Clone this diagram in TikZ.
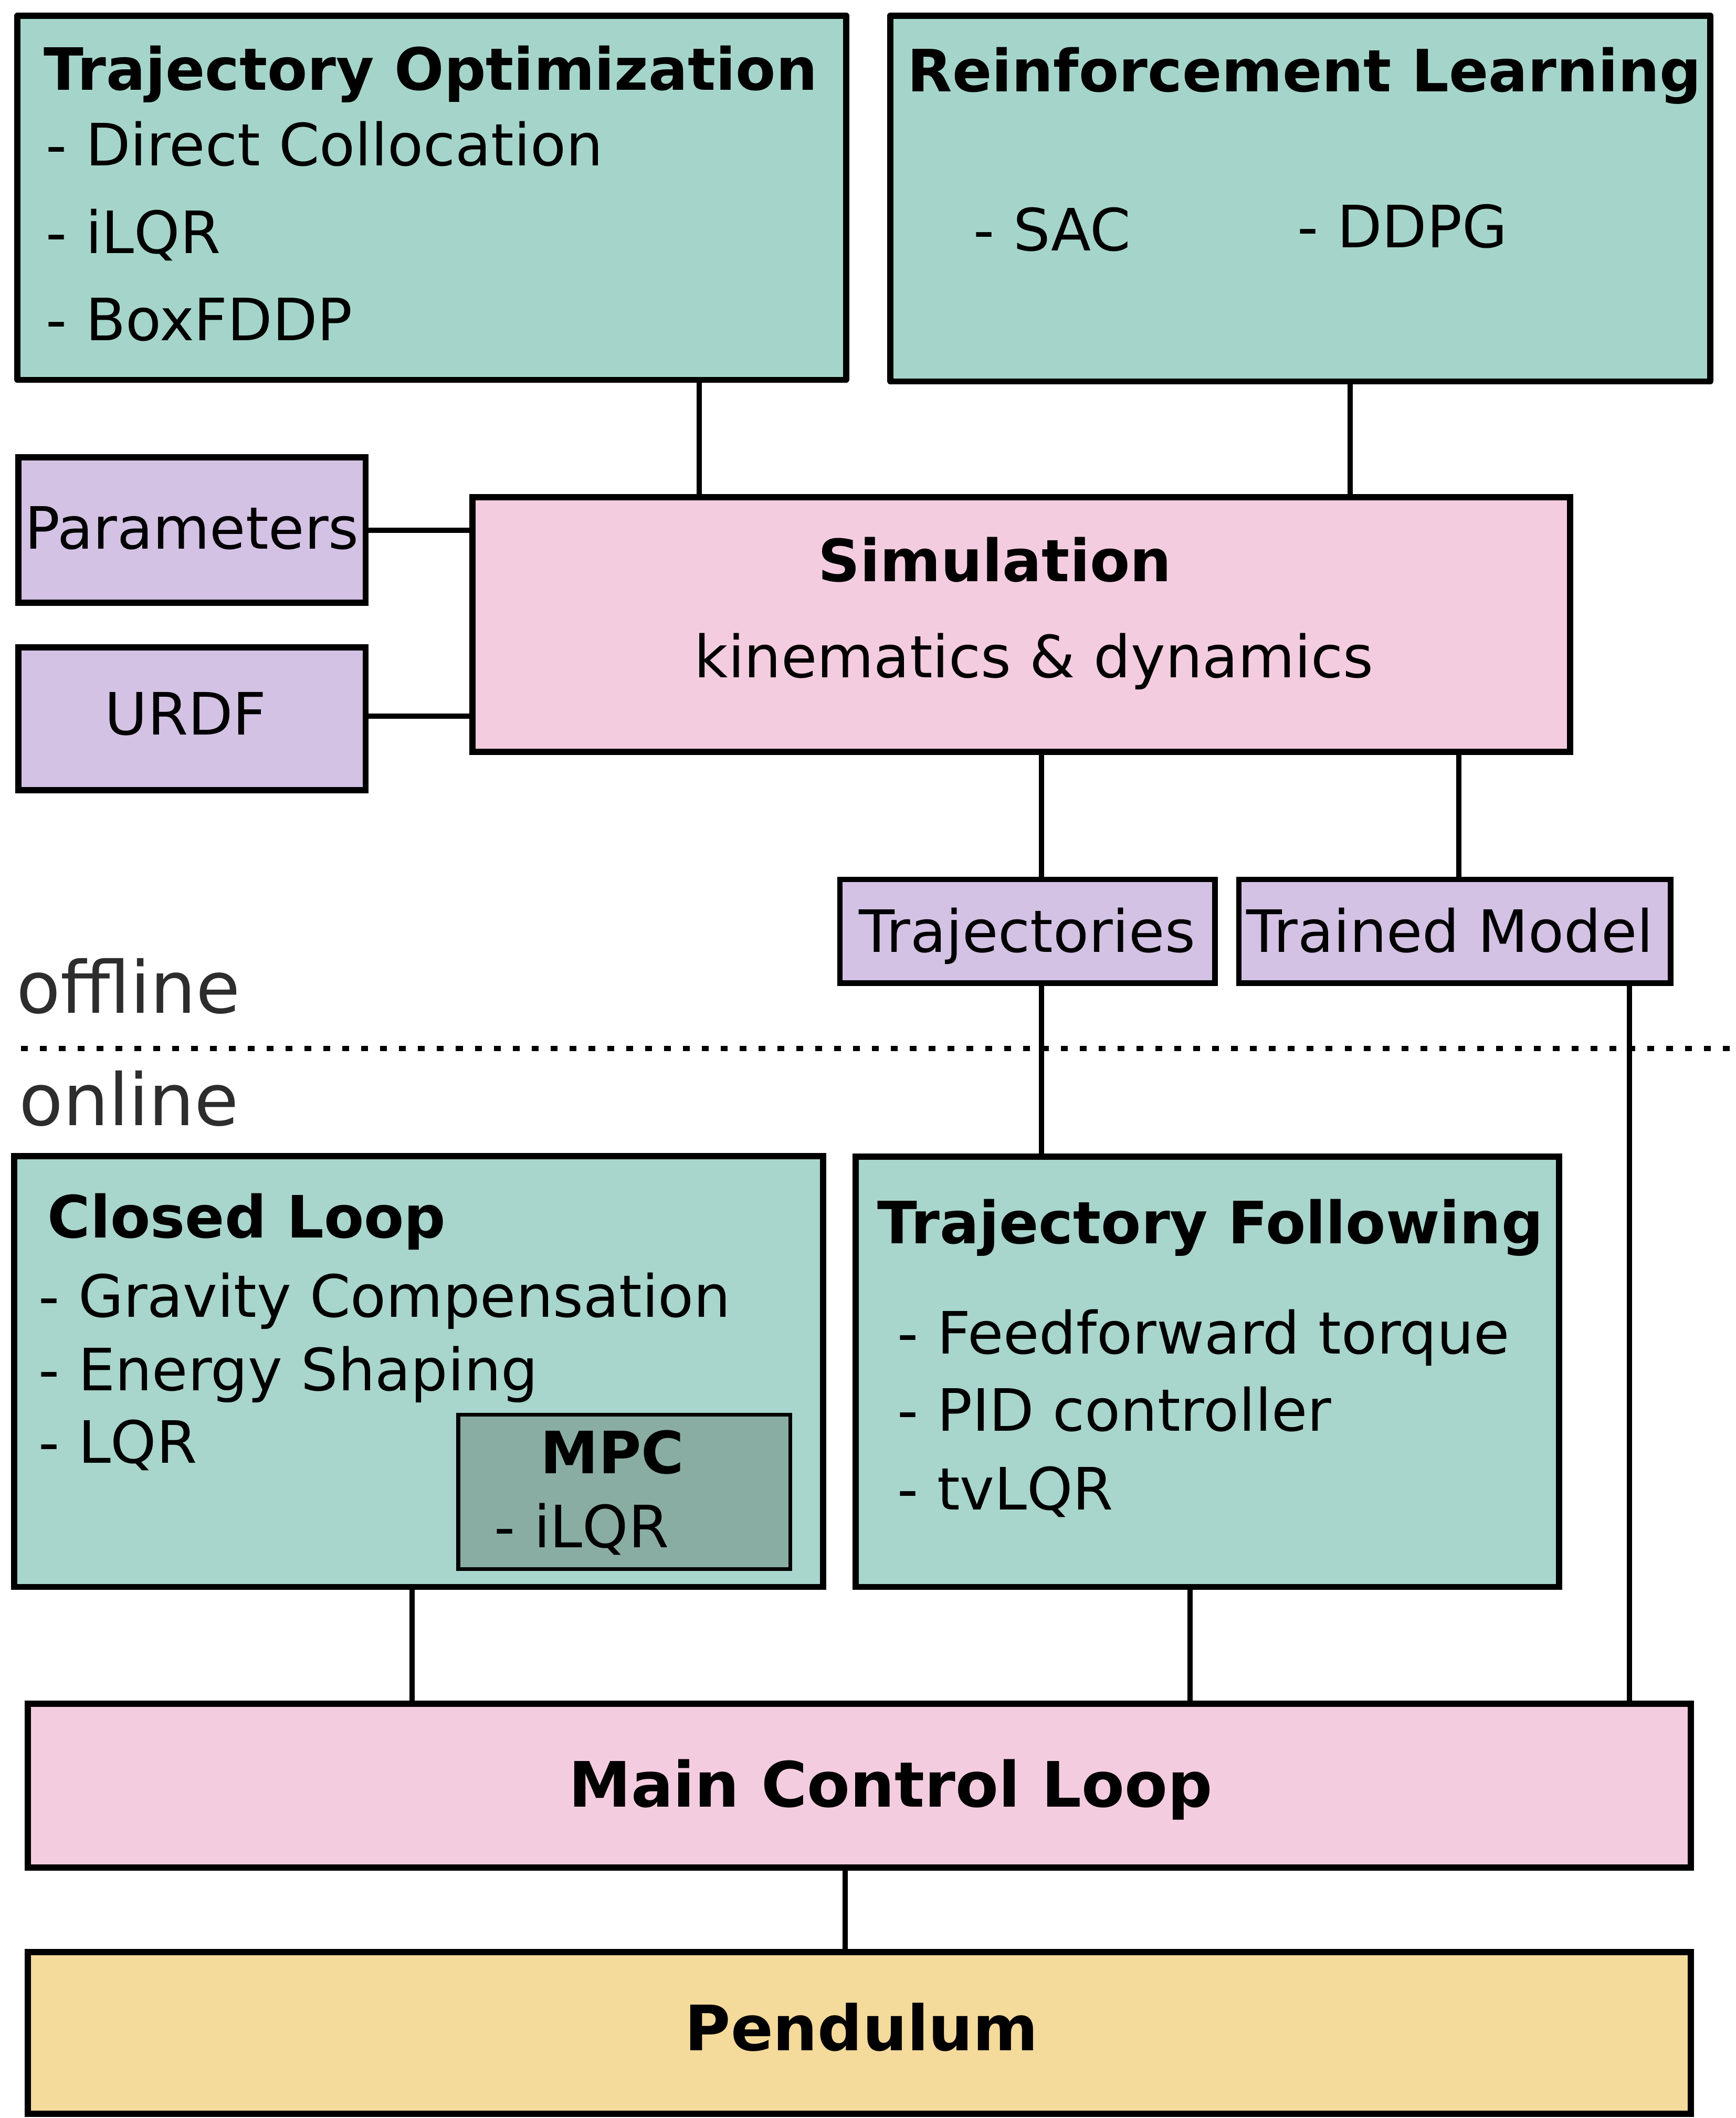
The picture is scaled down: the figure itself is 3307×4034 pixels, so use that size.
\documentclass[tikz,border=0pt]{standalone}
\usepackage{fontspec}
\setmainfont{DejaVu Sans}
\usepackage{tikz}
\usetikzlibrary{positioning, calc}
\usepackage{xcolor}
\definecolor{xteal}{HTML}{A5D5CA}
\definecolor{xtealb}{HTML}{A8D5CC}
\definecolor{xmpc}{HTML}{8AADA3}
\definecolor{xpink}{HTML}{F4CCDF}
\definecolor{xlilac}{HTML}{D3C2E4}
\definecolor{xsand}{HTML}{F4DA9B}
\definecolor{xgrey}{HTML}{2D2D2D}
\tikzset{
	box/.style={draw, line width=3.3pt, inner sep=0pt, outer sep=0pt, anchor=north west},
	link/.style={line width=2.7pt},
	txt/.style={anchor=base west, inner sep=0pt, font=\fontsize{31.6}{38}\selectfont},
	ttl/.style={anchor=base west, inner sep=0pt, font=\fontsize{31.6}{38}\selectfont\bfseries},
	bigttl/.style={anchor=base west, inner sep=0pt, font=\fontsize{33.9}{40}\selectfont\bfseries},
	side/.style={anchor=base west, inner sep=0pt, text=xgrey, font=\fontsize{39}{46}\selectfont},
}

\begin{document}
\begin{tikzpicture}[x=0.01cm, y=-0.01cm]
	\useasboundingbox (0,0) rectangle (3307,4034);
	% offline part
	\node[box, line join=round, fill=xteal, minimum width=15.78cm, minimum height=6.93cm] (trajopt) at (33,30) {};
	\node[ttl] (trajoptlbl) at (83,172) {Trajectory Optimization};
	\node[txt] (dircol) at (87,316) {- Direct Collocation};
	\node[txt] (ilqr) at (87,483) {- iLQR};
	\node[txt] (boxfddp) at (87,649) {- BoxFDDP};

	\node[box, line join=round, fill=xteal, minimum width=15.61cm, minimum height=6.96cm] (rl) at (1696,30) {};
	\node[ttl] (rllbl) at (1728,175) {Reinforcement Learning};
	\node[txt] (sac) at (1854,478) {- SAC};
	\node[txt] (ddpg) at (2471,472) {- DDPG};

	\node[box, fill=xlilac, minimum width=6.61cm, minimum height=2.77cm] (param) at (35,871) {};
	\node[txt] (paramlbl) at (47,1045) {Parameters};
	\node[box, fill=xlilac, minimum width=6.61cm, minimum height=2.72cm] (urdf) at (35,1233) {};
	\node[txt] (urdflbl) at (199,1399) {URDF};

	\node[box, fill=xpink, minimum width=20.9cm, minimum height=4.85cm] (sim) at (900,947) {};
	\node[ttl] (simlbl) at (1558,1107) {Simulation};
	\node[txt] (kinlbl) at (1322,1290) {kinematics \& dynamics};

	\node[box, line width=3.1pt, fill=xlilac, minimum width=7.14cm, minimum height=1.97cm] (traj) at (1600,1675) {};
	\node[txt] (trajlbl) at (1636,1813) {Trajectories};
	\node[box, line width=3.1pt, fill=xlilac, minimum width=8.22cm, minimum height=1.97cm] (model) at (2360,1675) {};
	\node[txt] (modellbl) at (2374,1813) {Trained Model};

	% separation
	\node[side] (offline) at (31,1929) {offline};
	\draw[line width=3pt, dash pattern=on 0.13cm off 0.23cm] (40,1997) -- (3300,1997);
	\node[side] (online) at (36,2143) {online};

	% online part
	\node[box, fill=xtealb, minimum width=15.4cm, minimum height=8.2cm] (closed) at (27,2202) {};
	\node[ttl] (closedlbl) at (90,2357) {Closed Loop};
	\node[txt] (gravity) at (73,2508) {- Gravity Compensation};
	\node[txt] (energy) at (73,2648) {- Energy Shaping};
	\node[txt] (lqr) at (73,2786) {- LQR};
	\node[box, line width=2pt, fill=xmpc, minimum width=6.32cm, minimum height=2.94cm] (mpc) at (873,2694) {};
	\node[ttl] (mpclbl) at (1029,2806) {MPC};
	\node[txt] (mpcilqr) at (941,2947) {- iLQR};

	\node[box, fill=xtealb, minimum width=13.39cm, minimum height=8.19cm] (follow) at (1630,2203) {};
	\node[ttl] (followlbl) at (1671,2368) {Trajectory Following};
	\node[txt] (fftorque) at (1709,2578) {- Feedforward torque};
	\node[txt] (pid) at (1709,2725) {- PID controller};
	\node[txt] (tvlqr) at (1709,2875) {- tvLQR};

	\node[box, fill=xpink, minimum width=31.66cm, minimum height=3.12cm] (mainloop) at (53,3245) {};
	\node[bigttl] (mainlbl) at (1083,3441) {Main Control Loop};
	\node[box, fill=xsand, minimum width=31.66cm, minimum height=3.08cm] (pendulum) at (53,3718) {};
	\node[bigttl] (pendlbl) at (1304,3905) {Pendulum};

	% connectors
	\coordinate (xopt) at (1332,0);
	\coordinate (xrl) at (2572,0);
	\coordinate (yparam) at (0,1010);
	\coordinate (yurdf) at (0,1364);
	\coordinate (xtraj) at (1984,0);
	\coordinate (xmodel) at (2779,0);
	\coordinate (xmodeldown) at (3104,0);
	\coordinate (xclosed) at (785,0);
	\coordinate (xfollow) at (2267,0);
	\coordinate (xpend) at (1610,0);

	\draw[link] (trajopt.south -| xopt) -- (sim.north -| xopt);
	\draw[link] (rl.south -| xrl) -- (sim.north -| xrl);
	\draw[link] (param.east |- yparam) -- (sim.west |- yparam);
	\draw[link] (urdf.east |- yurdf) -- (sim.west |- yurdf);
	\draw[link] (sim.south -| xtraj) -- (traj.north -| xtraj);
	\draw[link] (sim.south -| xmodel) -- (model.north -| xmodel);
	\draw[link] (traj.south -| xtraj) -- (follow.north -| xtraj);
	\draw[link] (model.south -| xmodeldown) -- (mainloop.north -| xmodeldown);
	\draw[link] (closed.south -| xclosed) -- (mainloop.north -| xclosed);
	\draw[link] (follow.south -| xfollow) -- (mainloop.north -| xfollow);
	\draw[link] (mainloop.south -| xpend) -- (pendulum.north -| xpend);
\end{tikzpicture}
\end{document}
